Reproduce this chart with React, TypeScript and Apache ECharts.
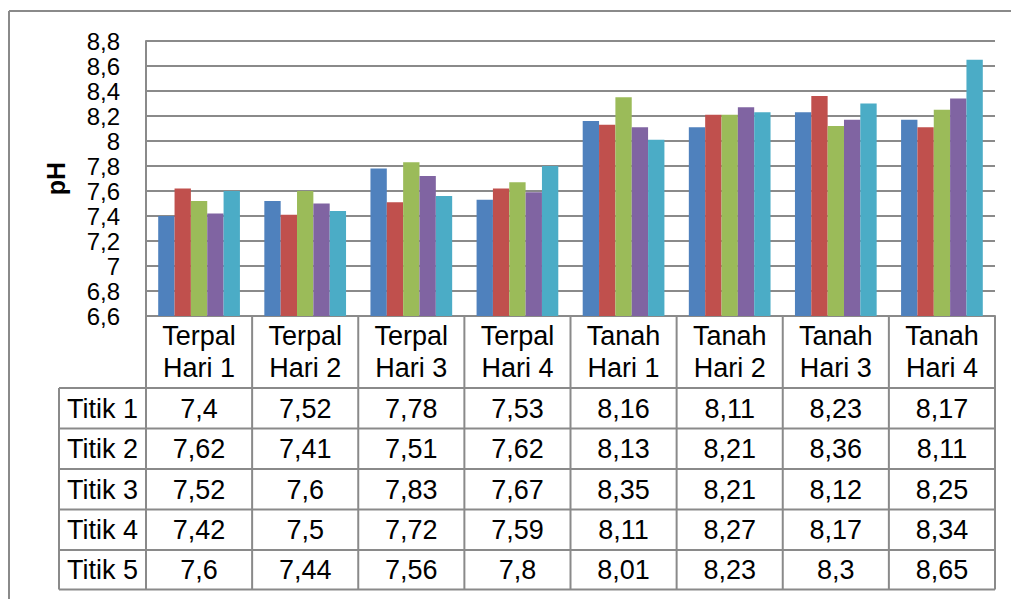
import React, { useEffect, useRef } from "react";
import * as echarts from "echarts";

const categories = [
  "Terpal\nHari 1",
  "Terpal\nHari 2",
  "Terpal\nHari 3",
  "Terpal\nHari 4",
  "Tanah\nHari 1",
  "Tanah\nHari 2",
  "Tanah\nHari 3",
  "Tanah\nHari 4",
];
const seriesNames = ["Titik 1", "Titik 2", "Titik 3", "Titik 4", "Titik 5"];
const titik1 = [7.4, 7.52, 7.78, 7.53, 8.16, 8.11, 8.23, 8.17];
const titik2 = [7.62, 7.41, 7.51, 7.62, 8.13, 8.21, 8.36, 8.11];
const titik3 = [7.52, 7.6, 7.83, 7.67, 8.35, 8.21, 8.12, 8.25];
const titik4 = [7.42, 7.5, 7.72, 7.59, 8.11, 8.27, 8.17, 8.34];
const titik5 = [7.6, 7.44, 7.56, 7.8, 8.01, 8.23, 8.3, 8.65];
const seriesData = [titik1, titik2, titik3, titik4, titik5];
const colors = ["#4F81BD", "#C0504D", "#9BBB59", "#8064A2", "#4BACC6"];
const yMin = 6.6;
const yMax = 8.8;
const yStep = 0.2;

const FONT = "'Liberation Sans', Arial, sans-serif";
const LINE = "#8a8a8a";

const fmt = (v: number) => String(v).replace(".", ",");

export default function App() {
  const ref = useRef<HTMLDivElement>(null);
  useEffect(() => {
    if (!ref.current) return;
    const chart = echarts.init(ref.current, undefined, { renderer: "svg" });

    const gridLeft = 146;
    const gridRight = 995;
    const gridTop = 41;
    const gridBottom = 316;
    const colW = (gridRight - gridLeft) / categories.length;
    const rowLines = [388, 428.5, 469, 509.5, 550, 589.5];
    const labelLeft = 59;

    const graphic: any[] = [];
    const ln = (x1: number, y1: number, x2: number, y2: number) =>
      graphic.push({
        type: "line",
        shape: { x1, y1, x2, y2 },
        style: { stroke: LINE, lineWidth: 2 },
        silent: true,
      });
    // outer frame
    ln(9, 11, 1011, 11);
    ln(9, 11, 9, 599);
    // header + table vertical lines
    ln(gridLeft, gridBottom, gridLeft, rowLines[rowLines.length - 1]);
    for (let i = 1; i <= categories.length; i++) {
      const x = gridLeft + i * colW;
      ln(x, gridBottom, x, rowLines[rowLines.length - 1]);
    }
    ln(labelLeft, rowLines[0], labelLeft, rowLines[rowLines.length - 1]);
    rowLines.forEach((y) => ln(labelLeft, y, gridRight, y));

    // table cells
    seriesData.forEach((arr, r) => {
      const cy = (rowLines[r] + rowLines[r + 1]) / 2 + 0.5;
      graphic.push({
        type: "text",
        x: (labelLeft + gridLeft) / 2,
        y: cy,
        style: {
          text: seriesNames[r],
          font: `27px ${FONT}`,
          fill: "#000",
          align: "center",
          verticalAlign: "middle",
        },
      });
      arr.forEach((v, c) => {
        graphic.push({
          type: "text",
          x: gridLeft + (c + 0.5) * colW,
          y: cy,
          style: {
            text: fmt(v),
            font: `27px ${FONT}`,
            fill: "#000",
            align: "center",
            verticalAlign: "middle",
          },
        });
      });
    });

    chart.setOption({
      animation: false,
      grid: {
        left: gridLeft,
        top: gridTop,
        width: gridRight - gridLeft,
        height: gridBottom - gridTop,
        containLabel: false,
      },
      xAxis: {
        type: "category",
        data: categories,
        axisLine: { show: true, lineStyle: { color: LINE, width: 2 } },
        axisTick: { show: false },
        axisLabel: {
          fontFamily: FONT,
          fontSize: 27,
          lineHeight: 32,
          color: "#000",
          margin: 4,
          interval: 0,
        },
        splitLine: { show: false },
      },
      yAxis: {
        type: "value",
        min: yMin,
        max: yMax,
        interval: yStep,
        name: "pH",
        nameLocation: "middle",
        nameGap: 78,
        nameRotate: 90,
        nameTextStyle: {
          fontFamily: FONT,
          fontSize: 25,
          fontWeight: "bold",
          color: "#000",
        },
        axisLine: { show: true, lineStyle: { color: LINE, width: 2 } },
        axisTick: { show: false },
        axisLabel: {
          fontFamily: FONT,
          fontSize: 24,
          lineHeight: 24,
          color: "#000",
          margin: 26,
          formatter: (v: number) => fmt(+v.toFixed(1)),
        },
        splitLine: { show: true, lineStyle: { color: LINE, width: 2 } },
      },
      series: seriesData.map((d, i) => ({
        type: "bar",
        name: seriesNames[i],
        data: d,
        barGap: "0%",
        barCategoryGap: "23%",
        itemStyle: { color: colors[i] },
      })),
      graphic,
    });
    return () => chart.dispose();
  }, []);
  return (
    <div
      ref={ref}
      style={{ position: "absolute", left: 0, top: 0, width: 1011, height: 599, background: "#fff" }}
    />
  );
}
